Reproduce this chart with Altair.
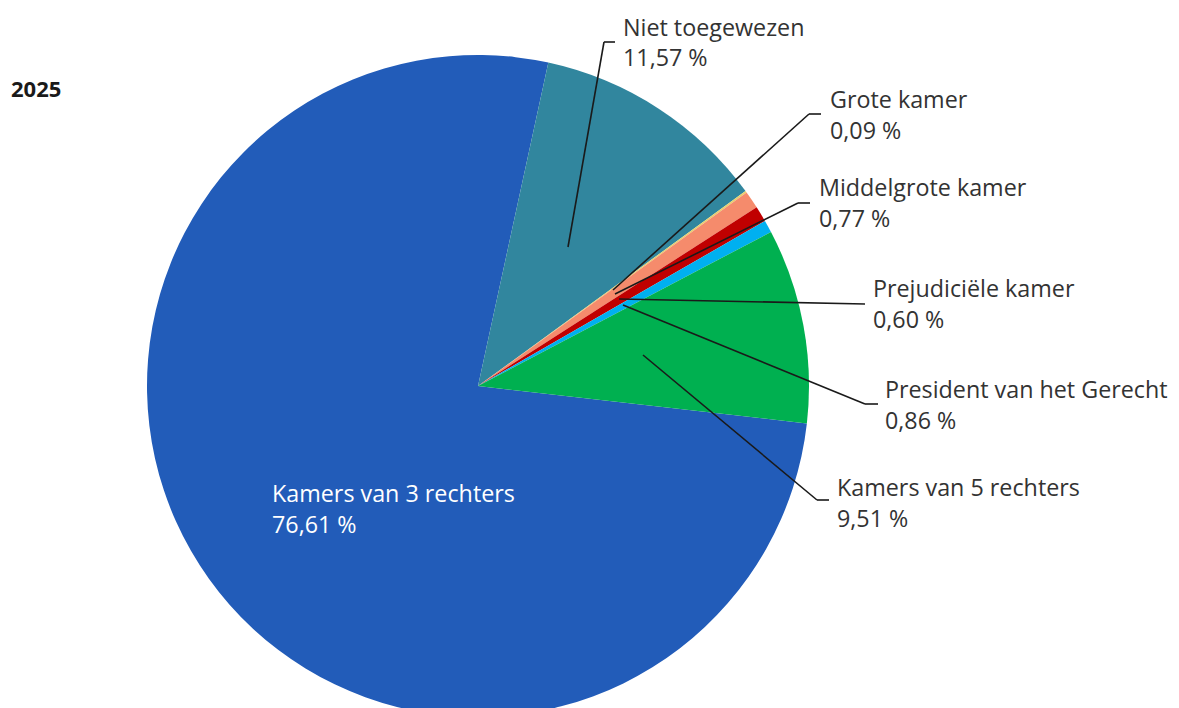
import math
import altair as alt
import pandas as pd

# ---- data ----
categories = [
    "Kamers van 3 rechters",
    "Niet toegewezen",
    "Grote kamer",
    "President van het Gerecht",
    "Middelgrote kamer",
    "Prejudiciële kamer",
    "Kamers van 5 rechters",
]
values = [76.61, 11.57, 0.09, 0.86, 0.77, 0.60, 9.51]
year_label = "2025"

# ---- styles ----
colors = ["#225CB9", "#31869E", "#E9CF6E", "#F58B6C", "#C00000", "#00B0F0", "#00B050"]
FONT = "Open Sans"
FS = 23.3
W, H = 1163, 700
CX, CY, R = 470, 378, 331
start = math.radians(96.5)

# ---- annotation layout (pixel positions, kept apart from data) ----
# label x, first-line baseline y, second-line baseline y, text colour
label_layout = {
    "Kamers van 3 rechters": (264, 494, 525, "white"),
    "Niet toegewezen": (615, 28, 58, "#333333"),
    "Grote kamer": (822, 100, 131, "#333333"),
    "Middelgrote kamer": (811, 188, 219, "#333333"),
    "Prejudiciële kamer": (865, 289, 320, "#333333"),
    "President van het Gerecht": (877, 390, 421, "#333333"),
    "Kamers van 5 rechters": (829, 488, 519, "#333333"),
}
# leader lines: list of segments (x, y, x2, y2)
leader_layout = {
    "Niet toegewezen": [(560, 239, 596, 34), (596, 34, 607, 34)],
    "Grote kamer": [(605, 282, 801, 106), (801, 106, 813, 106)],
    "Middelgrote kamer": [(607, 286, 790, 195), (790, 195, 802, 195)],
    "Prejudiciële kamer": [(611, 291, 857, 296)],
    "President van het Gerecht": [(615, 297, 857, 396), (857, 396, 870, 396)],
    "Kamers van 5 rechters": [(635, 347, 809, 492), (809, 492, 821, 492)],
}


def pct(v):
    return f"{v:.2f}".replace(".", ",") + " %"


df = pd.DataFrame({"cat": categories, "value": values, "idx": list(range(len(categories)))})

pie = alt.Chart(df).mark_arc(outerRadius=R).encode(
    theta=alt.Theta("value:Q", stack=True,
                    scale=alt.Scale(range=[start, start + 2 * math.pi])),
    color=alt.Color("cat:N", scale=alt.Scale(domain=categories, range=colors), legend=None),
    order=alt.Order("idx:Q"),
    x=alt.value(CX),
    y=alt.value(CY),
)

lab_rows = []
for c, v in zip(categories, values):
    lx, y1, y2, col = label_layout[c]
    lab_rows.append({"name": c, "pct": pct(v), "lx": lx, "y1": y1, "y2": y2, "col": col})
lab = pd.DataFrame(lab_rows)

seg_rows = []
for c, segs in leader_layout.items():
    for (a, b, a2, b2) in segs:
        seg_rows.append({"cat": c, "x": a, "y": b, "x2": a2, "y2": b2})
segs = pd.DataFrame(seg_rows)

leaders = alt.Chart(segs).mark_rule(color="#1a1a1a", strokeWidth=1.6).encode(
    x=alt.X("x:Q", scale=None, axis=None),
    y=alt.Y("y:Q", scale=None, axis=None),
    x2="x2:Q",
    y2="y2:Q",
)

name_text = alt.Chart(lab).mark_text(
    font=FONT, fontSize=FS, align="left", baseline="alphabetic"
).encode(
    x=alt.X("lx:Q", scale=None, axis=None),
    y=alt.Y("y1:Q", scale=None, axis=None),
    text="name:N",
    color=alt.Color("col:N", scale=None),
)

pct_text = alt.Chart(lab).mark_text(
    font=FONT, fontSize=FS, align="left", baseline="alphabetic"
).encode(
    x=alt.X("lx:Q", scale=None, axis=None),
    y=alt.Y("y2:Q", scale=None, axis=None),
    text="pct:N",
    color=alt.Color("col:N", scale=None),
)

title = alt.Chart(pd.DataFrame({"t": [year_label]})).mark_text(
    font=FONT, fontSize=22, fontWeight="bold", align="left", baseline="alphabetic",
    color="#1a1a1a",
).encode(x=alt.value(3), y=alt.value(89), text="t:N")

chart = alt.layer(pie, leaders, name_text, pct_text, title).properties(
    width=W, height=H, padding=0, autosize=alt.AutoSizeParams(type="none")
).configure_view(stroke=None).resolve_scale(color="independent")

chart.save("out.html", embed_options={"renderer": "svg", "actions": False})
